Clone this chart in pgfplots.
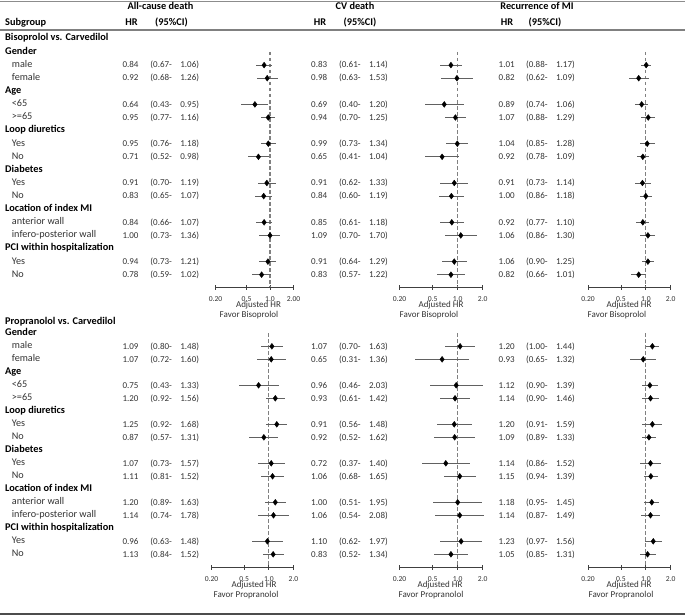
\documentclass[border=0pt]{standalone}
\usepackage{fontspec}
\setmainfont{Carlito}
\usepackage{pgfplots}
\pgfplotsset{compat=1.18}
\usepackage{pgfplotstable}

% ---------- Bisoprolol vs. Carvedilol ----------
\pgfplotstableread{
r hr lo hi
2 0.84 0.67 1.06
3 0.92 0.68 1.26
5 0.64 0.43 0.95
6 0.95 0.77 1.16
8 0.95 0.76 1.18
9 0.71 0.52 0.98
11 0.91 0.70 1.19
12 0.83 0.65 1.07
14 0.84 0.66 1.07
15 1.00 0.73 1.36
17 0.94 0.73 1.21
18 0.78 0.59 1.02
}\BAC
\pgfplotstableread{
r hr lo hi
2 0.83 0.61 1.14
3 0.98 0.63 1.53
5 0.69 0.40 1.20
6 0.94 0.70 1.25
8 0.99 0.73 1.34
9 0.65 0.41 1.04
11 0.91 0.62 1.33
12 0.84 0.60 1.19
14 0.85 0.61 1.18
15 1.09 0.70 1.70
17 0.91 0.64 1.29
18 0.83 0.57 1.22
}\BCV
\pgfplotstableread{
r hr lo hi
2 1.01 0.88 1.17
3 0.82 0.62 1.09
5 0.89 0.74 1.06
6 1.07 0.88 1.29
8 1.04 0.85 1.28
9 0.92 0.78 1.09
11 0.91 0.73 1.14
12 1.00 0.86 1.18
14 0.92 0.77 1.10
15 1.06 0.86 1.30
17 1.06 0.90 1.25
18 0.82 0.66 1.01
}\BMI
% ---------- Propranolol vs. Carvedilol ----------
\pgfplotstableread{
r hr lo hi
2 1.09 0.80 1.48
3 1.07 0.72 1.60
5 0.75 0.43 1.33
6 1.20 0.92 1.56
8 1.25 0.92 1.68
9 0.87 0.57 1.31
11 1.07 0.73 1.57
12 1.11 0.81 1.52
14 1.20 0.89 1.63
15 1.14 0.74 1.78
17 0.96 0.63 1.48
18 1.13 0.84 1.52
}\PAC
\pgfplotstableread{
r hr lo hi
2 1.07 0.70 1.63
3 0.65 0.31 1.36
5 0.96 0.46 2.03
6 0.93 0.61 1.42
8 0.91 0.56 1.48
9 0.92 0.52 1.62
11 0.72 0.37 1.40
12 1.06 0.68 1.65
14 1.00 0.51 1.95
15 1.06 0.54 2.08
17 1.10 0.62 1.97
18 0.83 0.52 1.34
}\PCV
\pgfplotstableread{
r hr lo hi
2 1.20 1.00 1.44
3 0.93 0.65 1.32
5 1.12 0.90 1.39
6 1.14 0.90 1.46
8 1.20 0.91 1.59
9 1.09 0.89 1.33
11 1.14 0.86 1.52
12 1.15 0.94 1.39
14 1.18 0.95 1.45
15 1.14 0.87 1.49
17 1.23 0.97 1.56
18 1.05 0.85 1.31
}\PMI

% #1 xleft #2 width #3 ytop #4 height #5 ymin #6 ticklabels #7 table
\newcommand\panel[7]{%
  \begin{semilogxaxis}[scale only axis, at={(#1bp,-#3bp)}, anchor=north west,
     width=#2bp, height=#4bp, xmin=0.2, xmax=2, ymin=#5, ymax=-1,
     enlargelimits=false, clip=false,
     axis x line=bottom, axis y line=none, ytick=\empty,
     x axis line style={-, black!75, line width=0.8bp},
     xtick={0.2,0.5,1,2}, xticklabels={#6}, minor xtick={},
     tick align=center, major tick length=5bp,
     every tick/.style={black!75, line width=0.8bp},
     xticklabel style={font=\fontsize{7.6bp}{9bp}\selectfont, text=black!80, inner sep=0.5bp, yshift=-6.5bp}]
    \addplot[black!50, line width=1.1bp, dash pattern=on 3.5bp off 2.5bp] coordinates {(1,-1) (1,#5)};
    \addplot[black, only marks, mark=diamond*, mark size=2.9bp,
      error bars/.cd, x dir=both, x explicit, error mark=none,
      error bar style={black!62, line width=0.95bp, solid}]
      table[x=hr, y expr=-\thisrow{r},
            x error plus expr=\thisrow{hi}-\thisrow{hr},
            x error minus expr=\thisrow{hr}-\thisrow{lo}] {#7};
  \end{semilogxaxis}}

% #1 table #2 y0 #3 pitch #4 x HR (west) #5 x CI (east)
\newcommand\vals[5]{%
  \foreach \i in {0,...,11}{%
    \pgfplotstablegetelem{\i}{r}\of#1\let\vr\pgfplotsretval
    \pgfplotstablegetelem{\i}{hr}\of#1\let\vhr\pgfplotsretval
    \pgfplotstablegetelem{\i}{lo}\of#1\let\vlo\pgfplotsretval
    \pgfplotstablegetelem{\i}{hi}\of#1\let\vhi\pgfplotsretval
    \node[val, anchor=west] at (#4,{#2+#3*(\vr-1)}) {\vhr};
    \node[val, anchor=east] at (#5,{#2+#3*(\vr-1)}) {(\vlo-\hspace{8.5bp}\vhi)};
  }}

\begin{document}
\begin{tikzpicture}[x=1bp, y=-1bp,
  hdr/.style={font=\bfseries\fontsize{10.3bp}{12bp}\selectfont, inner sep=0pt, text=black, text height=6.6bp, text depth=1.8bp},
  lab/.style={font=\fontsize{10.2bp}{12bp}\selectfont, inner sep=0pt, text=black!80, text height=6.6bp, text depth=1.8bp},
  val/.style={font=\fontsize{9bp}{11bp}\selectfont, inner sep=0pt, text=black!80, text height=6bp, text depth=0.6bp},
  sml/.style={font=\fontsize{9bp}{11bp}\selectfont, inner sep=0pt, text=black!80}]
\path[use as bounding box] (0,0) rectangle (685,616);

% rules
\draw[black!45, line width=0.8bp] (0,1) -- (685,1);
\draw[black!50, line width=1.6bp] (0,30) -- (685,30);
\draw[black!70, line width=2.4bp] (0,614) -- (685,614);

% headers
\node[hdr] at (160.5,7.5) {All-cause death};
\node[hdr] at (355,7.5) {CV death};
\node[hdr] at (537,7.5) {Recurrence of MI};
\node[hdr, anchor=west] at (5,23.3) {Subgroup};
\node[hdr] at (131.5,23.3) {HR};
\node[hdr] at (171.5,23.3) {(95\%CI)};
\node[hdr] at (320,23.3) {HR};
\node[hdr] at (360,23.3) {(95\%CI)};
\node[hdr] at (507,23.3) {HR};
\node[hdr] at (545,23.3) {(95\%CI)};

% block titles
\node[hdr, anchor=west] at (5,38.3) {Bisoprolol vs. Carvedilol};
\node[hdr, anchor=west] at (5,322.5) {Propranolol vs. Carvedilol};

% group labels
\foreach \r/\t in {1/Gender,4/Age,7/Loop diuretics,10/Diabetes,13/Location of index MI,16/PCI within hospitalization}{
  \node[hdr, anchor=west] at (5,{52+13.1*(\r-1)}) {\t};
  \node[hdr, anchor=west] at (5,{333.3+13*(\r-1)}) {\t};
}
\foreach \r/\t in {2/male,3/female,5/<65,6/>=65,8/Yes,9/No,11/Yes,12/No,14/anterior wall,15/infero-posterior wall,17/Yes,18/No}{
  \node[lab, anchor=west] at (11.7,{52+13.1*(\r-1)}) {\t};
  \node[lab, anchor=west] at (11.7,{333.3+13*(\r-1)}) {\t};
}

% values
\vals{\BAC}{52}{13.1}{122.3}{199.3}
\vals{\BCV}{52}{13.1}{311}{388}
\vals{\BMI}{52}{13.1}{498.5}{575}
\vals{\PAC}{333.3}{13}{122.3}{199.3}
\vals{\PCV}{333.3}{13}{311}{388}
\vals{\PMI}{333.3}{13}{498.5}{575}

% forest panels
\panel{215.5}{78}{52}{235}{-18.939}{0.20,0.5,1.0,2.00}{\BAC}
\panel{399.5}{83.2}{52}{235}{-18.939}{0.20,0.5,1.0,2.0}{\BCV}
\panel{588}{82.7}{52}{235}{-18.939}{0.20,0.5,1.0,2.0}{\BMI}
\panel{211.5}{82}{333.3}{233.7}{-18.977}{0.20,0.5,1.0,2.0}{\PAC}
\panel{399.5}{83.2}{333.3}{233.7}{-18.977}{0.20,0.5,1.0,2.0}{\PCV}
\panel{588}{82.7}{333.3}{233.7}{-18.977}{0.20,0.5,1.0,2.0}{\PMI}

% axis captions
\node[sml] at (258.5,305.5) {Adjusted HR};
\node[sml] at (441,305.5) {Adjusted HR};
\node[sml] at (629,305.5) {Adjusted HR};
\node[sml] at (249,315.5) {Favor Bisoprolol};
\node[sml] at (429,315.5) {Favor Bisoprolol};
\node[sml] at (617,315.5) {Favor Bisoprolol};
\node[sml] at (254,585.5) {Adjusted HR};
\node[sml] at (440,585.5) {Adjusted HR};
\node[sml] at (629,585.5) {Adjusted HR};
\node[sml] at (246,595.5) {Favor Propranolol};
\node[sml] at (431,595.5) {Favor Propranolol};
\node[sml] at (621,595.5) {Favor Propranolol};
\end{tikzpicture}
\end{document}
